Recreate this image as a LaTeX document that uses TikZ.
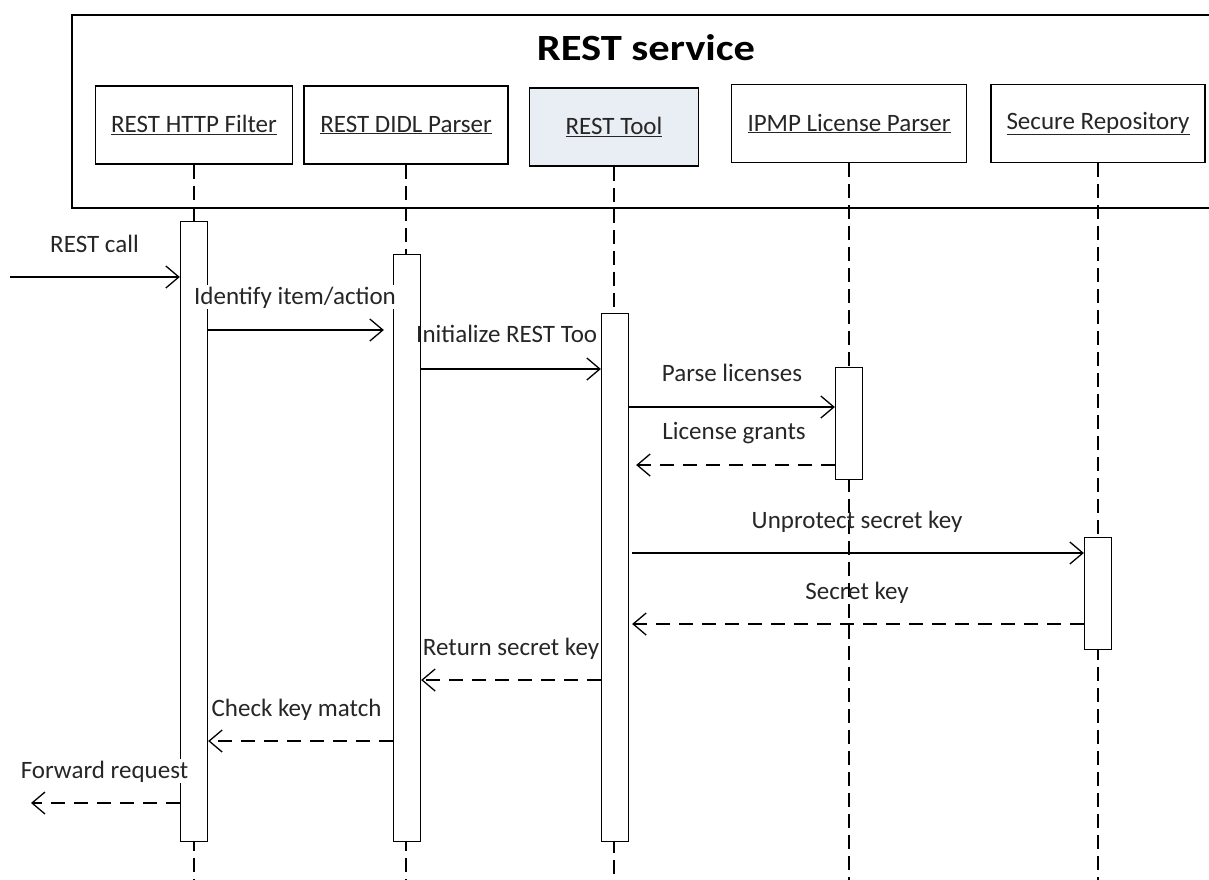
\documentclass[tikz,border=0pt]{standalone}
\usepackage{fontspec}
\setmainfont{Carlito}
\newfontfamily\titlefont{Carlito}[FakeStretch=1.15]
\usetikzlibrary{arrows.meta}
\definecolor{toolfill}{HTML}{E9EDF4}
\definecolor{txt}{HTML}{262626}
\begin{document}
\begin{tikzpicture}[x=1pt,y=-1pt,
  lw/.style={line width=1.3pt},
  lbl/.style={font=\fontsize{25}{30}\selectfont, text=txt, inner sep=1pt, text height=18pt, text depth=4pt},
  wlbl/.style={lbl, fill=white},
  obj/.style={draw, lw, minimum height=78pt, inner sep=0pt, font=\fontsize{25}{30}\selectfont, text=txt},
  act/.style={draw, lw, fill=white, minimum width=27pt, inner sep=0pt},
  life/.style={lw, dash pattern=on 14pt off 7pt},
  msg/.style={lw, -{Straight Barb[length=13pt,width=22pt,line width=1.3pt]}},
  ret/.style={msg, dash pattern=on 14pt off 9pt}]
\useasboundingbox (0,0) rectangle (1209,879);
\fill[white] (0,0) rectangle (1209,879);
% frame
\draw[lw] (1212,15) -- (72,15) -- (72,208) -- (1212,208);
\node[font=\titlefont\fontsize{37}{44}\selectfont\bfseries, anchor=base] (title) at (646,60) {REST service};
% objects
\node[obj, minimum width=197pt] (b1) at (194,125) {\underline{REST HTTP Filter}};
\node[obj, minimum width=204pt] (b2) at (406,125) {\underline{REST DIDL Parser}};
\node[obj, minimum width=169pt, fill=toolfill] (b3) at (614,127) {\underline{REST Tool}};
\node[obj, minimum width=235pt] (b4) at (849,123.5) {\underline{IPMP License Parser}};
\node[obj, minimum width=214pt] (b5) at (1098,123.5) {\underline{Secure Repository}};
% lifeline ends
\coordinate (e1) at (194,882);
\coordinate (e2) at (406,882);
\coordinate (e3) at (614,882);
\coordinate (e4) at (849,882);
\coordinate (e5) at (1098,882);
\draw[life] (b1.south) -- (e1);
\draw[life] (b2.south) -- (e2);
\draw[life] (b3.south) -- (e3);
\draw[life] (b4.south) -- (e4);
\draw[life] (b5.south) -- (e5);
% activations
\node[act, minimum height=620pt, anchor=north] (a1) at (194,221) {};
\node[act, minimum height=587pt, anchor=north] (a2) at (407,254) {};
\node[lbl, anchor=west] (l3) at (415,335) {Initialize REST Too};
\node[act, minimum height=528pt, anchor=north] (a3) at (615,313) {};
\node[act, minimum height=112pt, anchor=north] (a4) at (849,367) {};
\node[act, minimum height=112pt, anchor=north] (a5) at (1098,537) {};
% free ends
\coordinate (in) at (10,277);
\coordinate (out) at (31,803);
% messages
\draw[msg] (in) -- (a1.west |- in);
\draw[msg, shorten >=9pt] (a1.east |- 0,330) -- (a2.west |- 0,330);
\draw[msg] (a2.east |- 0,369) -- (a3.west |- 0,369);
\draw[msg] (a3.east |- 0,407) -- (a4.west |- 0,407);
\draw[ret, shorten >=7pt] (a4.west |- 0,465) -- (a3.east |- 0,465);
\draw[msg, shorten <=3pt] (a3.east |- 0,553) -- (a5.west |- 0,553);
\draw[ret, shorten >=3pt] (a5.west |- 0,624) -- (a3.east |- 0,624);
\draw[ret] (a3.west |- 0,680) -- (a2.east |- 0,680);
\draw[ret] (a2.west |- 0,741) -- (a1.east |- 0,741);
\draw[ret] (a1.west |- out) -- (out);
% labels
\node[lbl] (l1) at (94.5,245) {REST call};
\node[wlbl] (l2) at (295,297) {Identify item/action};
\node[lbl] (l4) at (732,374) {Parse licenses};
\node[lbl] (l5) at (734,432) {License grants};
\node[lbl] (l6) at (857,521) {Unprotect secret key};
\node[lbl] (l7) at (857,592) {Secret key};
\node[lbl] (l8) at (511,648) {Return secret key};
\node[lbl] (l9) at (296.5,709) {Check key match};
\node[wlbl] (l10) at (104.5,771) {Forward request};
\end{tikzpicture}
\end{document}
